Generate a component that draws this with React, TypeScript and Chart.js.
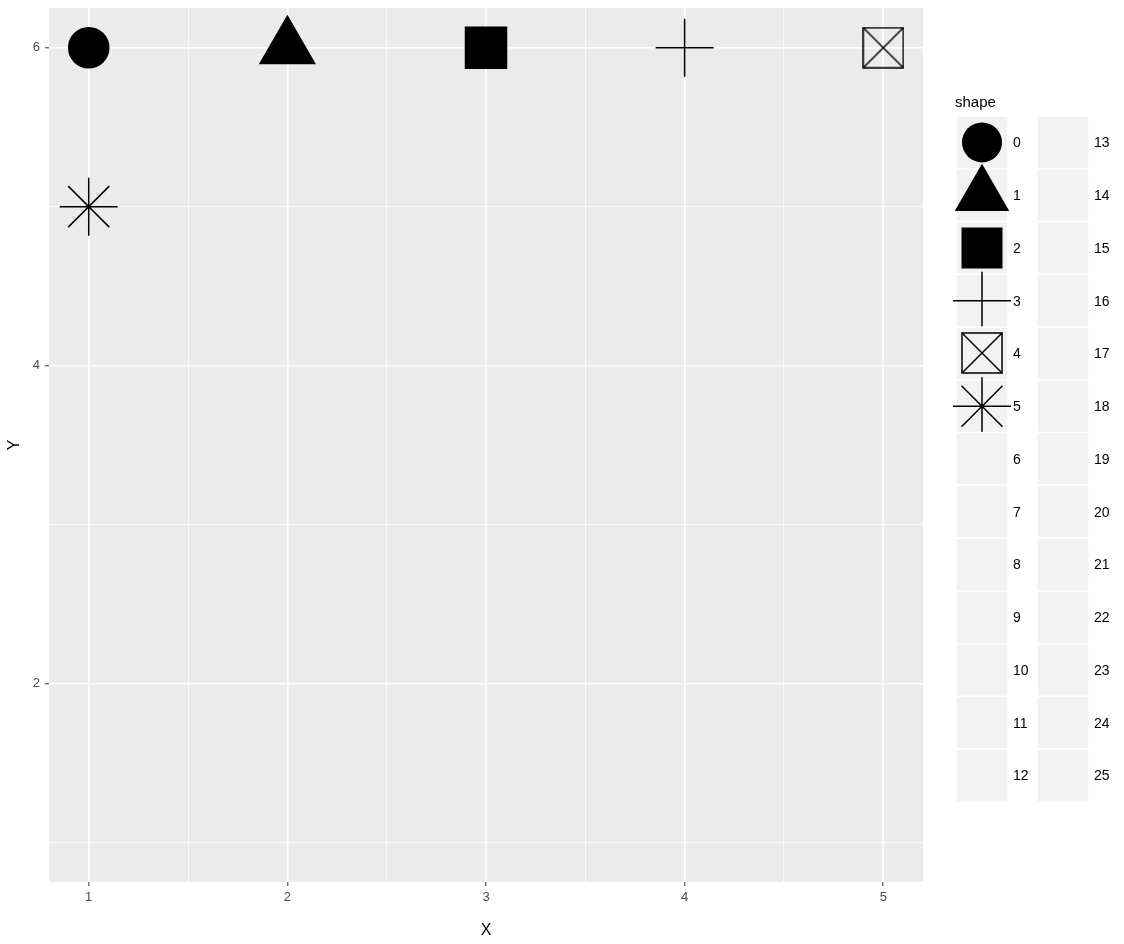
import React, { useEffect, useRef } from 'react';
import { Chart, registerables } from 'chart.js';

Chart.register(...registerables);

// ---- data ----
const pointX = [1, 2, 3, 4, 5, 1];
const pointY = [6, 6, 6, 6, 6, 5];
const pointShape = [0, 1, 2, 3, 4, 5];
const shapeLevels = [
  '0', '1', '2', '3', '4', '5', '6', '7', '8', '9', '10', '11', '12',
  '13', '14', '15', '16', '17', '18', '19', '20', '21', '22', '23', '24', '25',
];
const xBreaks = [1, 2, 3, 4, 5];
const xMinorBreaks = [1.5, 2.5, 3.5, 4.5];
const yBreaks = [2, 4, 6];
const yMinorBreaks = [1, 3, 5];
const xLimits = [0.8, 5.2];
const yLimits = [0.75, 6.25];

const FONT = '"Liberation Sans", Arial, sans-serif';

function makeBoxX(): HTMLCanvasElement {
  const c = document.createElement('canvas');
  c.width = 42;
  c.height = 42;
  const g = c.getContext('2d')!;
  g.strokeStyle = '#000';
  g.lineWidth = 1.5;
  g.strokeRect(1, 1, 40, 40);
  g.beginPath();
  g.moveTo(1, 1);
  g.lineTo(41, 41);
  g.moveTo(41, 1);
  g.lineTo(1, 41);
  g.stroke();
  return c;
}

function styleFor(code: number, boxX: HTMLCanvasElement): { style: any; radius: number } {
  switch (code) {
    case 0: return { style: 'circle', radius: 20 };
    case 1: return { style: 'triangle', radius: 31.5 };
    case 2: return { style: 'rect', radius: 29 };
    case 3: return { style: 'cross', radius: 29 };
    case 4: return { style: boxX, radius: 21 };
    case 5: return { style: 'star', radius: 29 };
    default: return { style: false, radius: 0 };
  }
}

function drawSymbol(ctx: CanvasRenderingContext2D, code: number, x: number, y: number, boxX: HTMLCanvasElement) {
  ctx.save();
  ctx.fillStyle = '#000';
  ctx.strokeStyle = '#000';
  ctx.lineWidth = 1.5;
  ctx.beginPath();
  if (code === 0) {
    ctx.arc(x, y, 20, 0, Math.PI * 2);
    ctx.fill();
  } else if (code === 1) {
    const r = 31.5;
    for (let k = 0; k < 3; k++) {
      const a = (k * 2 * Math.PI) / 3;
      const px = x + Math.sin(a) * r;
      const py = y - Math.cos(a) * r;
      if (k === 0) ctx.moveTo(px, py); else ctx.lineTo(px, py);
    }
    ctx.closePath();
    ctx.fill();
  } else if (code === 2) {
    const s = 29 * Math.SQRT1_2;
    ctx.rect(x - s, y - s, 2 * s, 2 * s);
    ctx.fill();
  } else if (code === 3) {
    ctx.moveTo(x - 29, y); ctx.lineTo(x + 29, y);
    ctx.moveTo(x, y - 29); ctx.lineTo(x, y + 29);
    ctx.stroke();
  } else if (code === 4) {
    ctx.drawImage(boxX, Math.round(x - boxX.width / 2), Math.round(y - boxX.height / 2));
  } else if (code === 5) {
    const r = 29;
    const d = r * Math.SQRT1_2;
    ctx.moveTo(x - r, y); ctx.lineTo(x + r, y);
    ctx.moveTo(x, y - r); ctx.lineTo(x, y + r);
    ctx.moveTo(x - d, y - d); ctx.lineTo(x + d, y + d);
    ctx.moveTo(x + d, y - d); ctx.lineTo(x - d, y + d);
    ctx.stroke();
  }
  ctx.restore();
}

export default function App() {
  const ref = useRef<HTMLCanvasElement | null>(null);

  useEffect(() => {
    document.body.style.margin = '0';
    const canvas = ref.current;
    if (!canvas) return;
    const boxX = makeBoxX();
    const styles = pointShape.map((s) => styleFor(s, boxX));

    const panelBg = {
      id: 'panelBg',
      beforeDraw(chart: any) {
        const { ctx, chartArea } = chart;
        ctx.save();
        ctx.fillStyle = '#EBEBEB';
        ctx.fillRect(chartArea.left, chartArea.top, chartArea.right - chartArea.left, chartArea.bottom - chartArea.top);
        ctx.restore();
      },
    };

    const legendPlugin = {
      id: 'ggLegend',
      afterDraw(chart: any) {
        const ctx: CanvasRenderingContext2D = chart.ctx;
        ctx.save();
        ctx.fillStyle = '#000';
        ctx.font = `15px ${FONT}`;
        ctx.textBaseline = 'alphabetic';
        ctx.textAlign = 'left';
        ctx.fillText('shape', 955, 107);
        const rows = 13;
        const top = 116;
        const pitch = 52.77;
        const colX = [956, 1037];
        const keyW = 52;
        shapeLevels.forEach((lab, i) => {
          const col = Math.floor(i / rows);
          const row = i % rows;
          const x0 = colX[col];
          const y0 = top + row * pitch;
          ctx.fillStyle = '#F2F2F2';
          ctx.fillRect(x0, y0, keyW, pitch);
          ctx.strokeStyle = '#FFFFFF';
          ctx.lineWidth = 1.5;
          ctx.strokeRect(x0, y0, keyW, pitch);
          const code = Number(lab);
          if (pointShape.includes(code)) {
            drawSymbol(ctx, code, x0 + keyW / 2, y0 + pitch / 2, boxX);
          }
        });
        ctx.font = `14px ${FONT}`;
        ctx.fillStyle = '#000';
        ctx.textBaseline = 'middle';
        shapeLevels.forEach((lab, i) => {
          const col = Math.floor(i / rows);
          const row = i % rows;
          ctx.fillText(lab, colX[col] + keyW + 5, top + row * pitch + pitch / 2 + 1);
        });
        ctx.restore();
      },
    };

    const isMajorX = (v: number) => xBreaks.includes(v);
    const isMajorY = (v: number) => yBreaks.includes(v);

    const chart = new Chart(canvas, {
      type: 'scatter',
      data: {
        datasets: [
          {
            label: 'shape',
            data: pointX.map((x, i) => ({ x, y: pointY[i] })),
            pointStyle: styles.map((s) => s.style),
            pointRadius: styles.map((s) => s.radius),
            pointHoverRadius: styles.map((s) => s.radius),
            backgroundColor: '#000',
            borderColor: '#000',
            borderWidth: 1.5,
            clip: false,
          } as any,
        ],
      },
      options: {
        animation: false,
        responsive: false,
        events: [],
        layout: { autoPadding: false, padding: { top: 8, right: 201, left: 0, bottom: 0 } } as any,
        plugins: { legend: { display: false }, tooltip: { enabled: false } },
        scales: {
          x: {
            type: 'linear',
            min: xLimits[0],
            max: xLimits[1],
            afterBuildTicks: (scale: any) => {
              scale.ticks = [...xBreaks, ...xMinorBreaks].sort((a, b) => a - b).map((v) => ({ value: v }));
            },
            afterFit: (scale: any) => {
              scale.height = 62;
              scale.paddingLeft = 0;
              scale.paddingRight = 0;
            },
            border: { display: false },
            grid: {
              color: '#FFFFFF',
              lineWidth: (c: any) => (isMajorX(c.tick?.value) ? 1.6 : 0.8),
              tickColor: (c: any) => (isMajorX(c.tick?.value) ? '#333333' : 'rgba(0,0,0,0)'),
              tickLength: 4,
              tickWidth: 1,
            },
            ticks: {
              autoSkip: false,
              maxRotation: 0,
              padding: 4,
              color: '#4D4D4D',
              font: { family: FONT, size: 13 },
              callback: (v: any) => (xBreaks.includes(Number(v)) ? String(v) : ''),
            },
            title: {
              display: true,
              text: 'X',
              color: '#000',
              font: { family: FONT, size: 16 },
              padding: { top: 0, bottom: 4 },
            },
          },
          y: {
            type: 'linear',
            min: yLimits[0],
            max: yLimits[1],
            afterBuildTicks: (scale: any) => {
              scale.ticks = [...yBreaks, ...yMinorBreaks].sort((a, b) => a - b).map((v) => ({ value: v }));
            },
            afterFit: (scale: any) => {
              scale.width = 49;
              scale.paddingTop = 0;
              scale.paddingBottom = 0;
            },
            border: { display: false },
            grid: {
              color: '#FFFFFF',
              lineWidth: (c: any) => (isMajorY(c.tick?.value) ? 1.6 : 0.8),
              tickColor: (c: any) => (isMajorY(c.tick?.value) ? '#333333' : 'rgba(0,0,0,0)'),
              tickLength: 4,
              tickWidth: 1,
            },
            ticks: {
              autoSkip: false,
              padding: 5,
              color: '#4D4D4D',
              font: { family: FONT, size: 13 },
              callback: (v: any) => (yBreaks.includes(Number(v)) ? String(v) : ''),
            },
            title: {
              display: true,
              text: 'Y',
              color: '#000',
              font: { family: FONT, size: 16 },
              padding: { top: 5, bottom: 0 },
            },
          },
        },
      },
      plugins: [panelBg, legendPlugin],
    });
    return () => chart.destroy();
  }, []);

  return (
    <div style={{ width: 1124, height: 944 }}>
      <canvas ref={ref} width={1124} height={944} style={{ display: 'block', width: 1124, height: 944 }} />
    </div>
  );
}
